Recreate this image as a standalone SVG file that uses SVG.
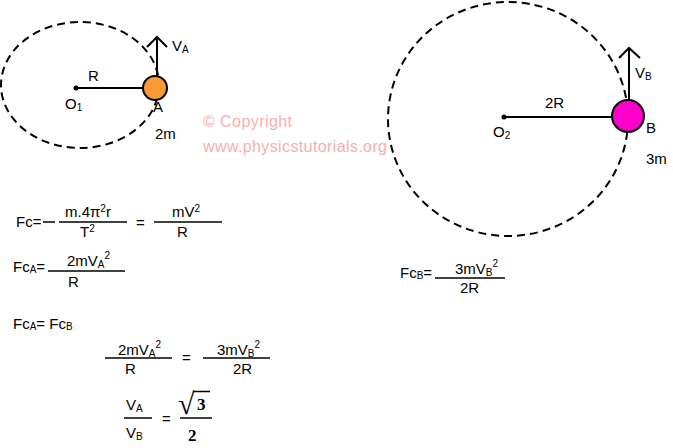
<svg xmlns="http://www.w3.org/2000/svg" width="673" height="448" viewBox="0 0 673 448">
<style>
text{font-family:"Liberation Sans","DejaVu Sans",sans-serif;font-size:15px;fill:#000}
.sm{font-size:10px}
.orbit{fill:none;stroke:#000;stroke-width:2;stroke-dasharray:8 5}
.ln{stroke:#000;stroke-width:2;fill:none}
.fl{stroke:#000;stroke-width:1.5}
.copy{fill:#F8AEAE;font-size:16px}
.bold{font-family:"Liberation Serif","DejaVu Serif",serif;font-weight:bold;font-size:17px}
</style>
<rect width="673" height="448" fill="#fff"/>

<g id="orbitA">
<ellipse class="orbit" cx="80" cy="85" rx="79" ry="63"/>
</g>
<g id="orbitB">
<ellipse class="orbit" cx="508" cy="119" rx="120" ry="117"/>
</g>

<g id="connectors">
<line class="ln" x1="76" y1="88" x2="145" y2="88"/>
<line class="ln" x1="157" y1="37" x2="157" y2="77"/>
<polyline class="ln" points="147,47 157,37 167,47"/>
<line class="ln" x1="504" y1="117" x2="613" y2="117"/>
<line class="ln" x1="629" y1="48" x2="629" y2="100"/>
<polyline class="ln" points="619,58 629,48 640,58"/>
</g>

<g id="centerO1">
<circle cx="76" cy="88" r="2.5" fill="#000"/>
<text x="65" y="109">O<tspan class="sm" dy="2">1</tspan></text>
<text x="88" y="81">R</text>
</g>
<g id="ballA">
<circle cx="155" cy="88" r="12" fill="#F89A35" stroke="#000" stroke-width="2"/>
<text x="172" y="51">V<tspan class="sm" dy="2">A</tspan></text>
<text x="153" y="112">A</text>
<text x="155" y="139">2m</text>
</g>
<g id="centerO2">
<circle cx="504" cy="117" r="2.5" fill="#000"/>
<text x="493" y="137">O<tspan class="sm" dy="2">2</tspan></text>
<text x="545" y="108">2R</text>
</g>
<g id="ballB">
<circle cx="628" cy="116" r="16" fill="#FF00CC" stroke="#000" stroke-width="2"/>
<text x="635" y="78">V<tspan class="sm" dy="2">B</tspan></text>
<text x="646" y="133">B</text>
<text x="646" y="164">3m</text>
</g>

<g id="copyright">
<text class="copy" x="203" y="127" textLength="89">© Copyright</text>
<text class="copy" x="203" y="152" textLength="184">www.physicstutorials.org</text>
</g>

<g id="eq1">
<text x="16" y="227">Fc=</text>
<line class="fl" x1="43" y1="222" x2="55" y2="222"/>
<line class="fl" x1="59" y1="222" x2="127" y2="222"/>
<text x="65" y="217">m.4π<tspan class="sm" dy="-5">2</tspan><tspan dy="5">r</tspan></text>
<text x="80" y="237">T<tspan class="sm" dy="-5">2</tspan></text>
<text x="136" y="228">=</text>
<line class="fl" x1="154" y1="222" x2="222" y2="222"/>
<text x="172" y="217">mV<tspan class="sm" dy="-5">2</tspan></text>
<text x="177" y="237">R</text>
</g>

<g id="eq2">
<text x="13" y="272">Fc<tspan class="sm" dy="1">A</tspan><tspan dy="-1">=</tspan></text>
<line class="fl" x1="48" y1="271" x2="125" y2="271"/>
<text x="67" y="266">2mV<tspan class="sm" dy="2">A</tspan><tspan class="sm" dy="-9">2</tspan></text>
<text x="68" y="287">R</text>
</g>

<g id="eq3">
<text x="400" y="278">Fc<tspan class="sm" dy="1">B</tspan><tspan dy="-1">=</tspan></text>
<line class="fl" x1="435" y1="278" x2="505" y2="278"/>
<text x="455" y="274">3mV<tspan class="sm" dy="2">B</tspan><tspan class="sm" dy="-9">2</tspan></text>
<text x="460" y="293">2R</text>
</g>

<g id="eq4">
<text x="13" y="329">Fc<tspan class="sm" dy="1">A</tspan><tspan dy="-1">= Fc</tspan><tspan class="sm" dy="1">B</tspan></text>
</g>

<g id="eq5">
<line class="fl" x1="105" y1="358" x2="172" y2="358"/>
<text x="118" y="355">2mV<tspan class="sm" dy="2">A</tspan><tspan class="sm" dy="-9">2</tspan></text>
<text x="125" y="374">R</text>
<text x="182" y="363">=</text>
<line class="fl" x1="203" y1="358" x2="270" y2="358"/>
<text x="217" y="355">3mV<tspan class="sm" dy="2">B</tspan><tspan class="sm" dy="-9">2</tspan></text>
<text x="233" y="374">2R</text>
</g>

<g id="eq6">
<text x="126" y="410">V<tspan class="sm" dy="2">A</tspan></text>
<line class="fl" x1="124" y1="418" x2="152" y2="418"/>
<text x="126" y="438">V<tspan class="sm" dy="2">B</tspan></text>
<text x="162" y="424">=</text>
<text x="178" y="414" style="font-family:'Liberation Serif',serif;font-size:30px">√</text>
<line x1="193" y1="391.5" x2="210" y2="391.5" stroke="#000" stroke-width="1.5"/>
<text class="bold" x="197" y="410">3</text>
<line class="fl" x1="180" y1="418" x2="212" y2="418"/>
<text class="bold" x="188" y="441">2</text>
</g>
</svg>
